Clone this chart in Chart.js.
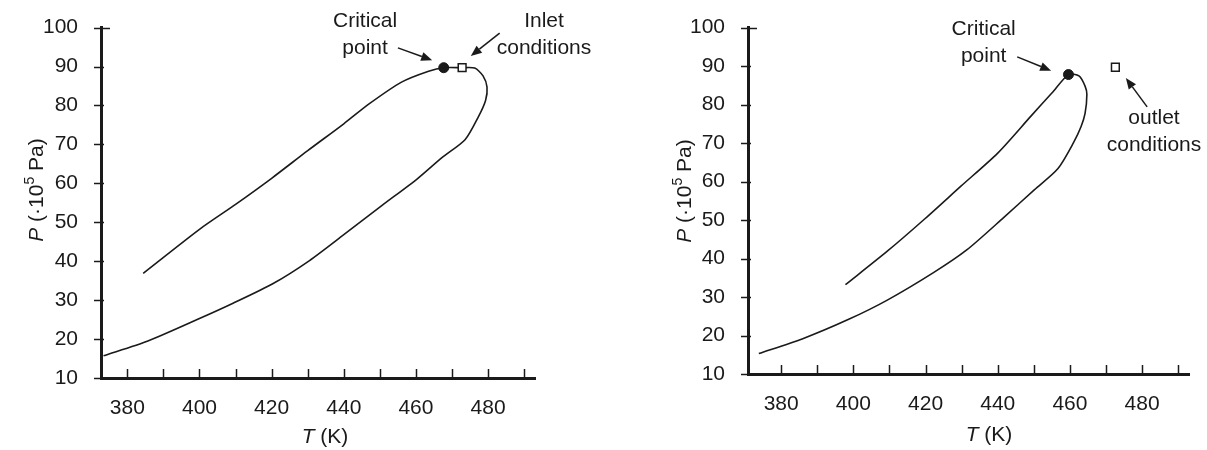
<!DOCTYPE html>
<html>
<head>
<meta charset="utf-8">
<script src="https://cdn.jsdelivr.net/npm/chart.js@4/dist/chart.umd.min.js"></script>
<style>
html, body { margin: 0; padding: 0; background: #fff; }
#left { position: absolute; left: 0; top: 0; width: 600px; height: 450px; }
#right { position: absolute; left: 600px; top: 0; width: 607px; height: 450px; }
</style>
</head>
<body>
<div id="left"><canvas id="leftChart"></canvas></div>
<div id="right"><canvas id="rightChart"></canvas></div>
<script>
// phase envelope, left panel (inlet)
var leftCurveT = [384.4, 400, 410, 420, 430, 440, 447, 456, 463.5, 467.7, 472.8, 476.3, 478.6, 479.7, 479.3, 477.3, 473.6, 467.2, 460.3, 450.7, 440, 430.4, 420.3, 409.3, 400.3, 385.7, 373.4];
var leftCurveP = [36.9, 48.2, 54.6, 61.3, 68.4, 75.3, 80.4, 86.0, 88.8, 89.7, 89.7, 89.6, 87.6, 84.7, 81.3, 77.1, 71.2, 66.6, 61.1, 54.4, 46.8, 40.1, 34.2, 29.2, 25.4, 19.5, 15.7];
var leftCritical = [467.7, 89.7];
var leftInlet = [472.8, 89.7];

// right panel (outlet)
var rightCurveT = [397.8, 409.4, 419.9, 429.8, 440, 449.2, 455, 459.6, 462.6, 464.2, 464.7, 464.2, 463.1, 461, 456.7, 450.2, 441.7, 431.5, 422.3, 409.4, 398.7, 385.8, 373.8];
var rightCurveP = [33.2, 41.9, 50.4, 58.8, 67.4, 77.0, 83.0, 87.8, 87.4, 84.8, 82.7, 77.7, 74.3, 70.1, 63.4, 57.9, 50.7, 42.3, 36.4, 29.2, 24.2, 19.1, 15.3];
var rightCritical = [459.6, 87.8];
var rightOutlet = [472.6, 89.7];

var xTickValues = [380, 390, 400, 410, 420, 430, 440, 450, 460, 470, 480, 490];
var xLabelValues = [380, 400, 420, 440, 460, 480];
var yTickValues = [10, 20, 30, 40, 50, 60, 70, 80, 90, 100];

var FONT = "'Liberation Sans', Arial, sans-serif";
var INK = '#1a1a1a';

function toPoints(ts, ps) {
    return ts.map(function (t, i) { return { x: t, y: ps[i] }; });
}

function drawRich(ctx, parts, cx, cy) {
    // parts: {t, italic, sup}; cy is the visual middle of the caps
    var total = 0;
    parts.forEach(function (p) {
        ctx.font = (p.italic ? 'italic ' : '') + (p.sup ? 14 : 21) + 'px ' + FONT;
        p.w = ctx.measureText(p.t).width;
        total += p.w;
    });
    var x = cx - total / 2;
    ctx.textBaseline = 'alphabetic';
    ctx.textAlign = 'left';
    parts.forEach(function (p) {
        ctx.font = (p.italic ? 'italic ' : '') + (p.sup ? 14 : 21) + 'px ' + FONT;
        ctx.fillText(p.t, x, p.sup ? cy + 7.5 - 9 : cy + 7.5);
        x += p.w;
    });
}

function drawArrow(ctx, x1, y1, x2, y2) {
    var ang = Math.atan2(y2 - y1, x2 - x1);
    var len = 11, half = 4.5;
    var bx = x2 - len * Math.cos(ang), by = y2 - len * Math.sin(ang);
    ctx.beginPath();
    ctx.moveTo(x1, y1);
    ctx.lineTo(bx, by);
    ctx.stroke();
    ctx.beginPath();
    ctx.moveTo(x2, y2);
    ctx.lineTo(bx + half * Math.sin(ang), by - half * Math.cos(ang));
    ctx.lineTo(bx - half * Math.sin(ang), by + half * Math.cos(ang));
    ctx.closePath();
    ctx.fill();
}

var decorPlugin = {
    id: 'decor',
    afterDraw: function (chart, args, opts) {
        var ctx = chart.ctx, a = chart.chartArea;
        var xs = chart.scales.x, ys = chart.scales.y;
        ctx.save();
        ctx.strokeStyle = INK;
        ctx.fillStyle = INK;
        ctx.lineWidth = 1.5;

        // small ticks on x axis, pointing up into the plot
        xTickValues.forEach(function (v) {
            var px = Math.round(xs.getPixelForValue(v)) + 0.5;
            ctx.beginPath();
            ctx.moveTo(px, a.bottom);
            ctx.lineTo(px, a.bottom - 9);
            ctx.stroke();
        });
        // ticks on y axis, crossing the axis
        yTickValues.forEach(function (v) {
            var py = Math.round(ys.getPixelForValue(v)) + 0.5;
            ctx.beginPath();
            ctx.moveTo(a.left - 7, py);
            ctx.lineTo(a.left + (v === 100 ? 9 : 3), py);
            ctx.stroke();
        });

        // axis titles
        drawRich(ctx, [{ t: 'T', italic: true }, { t: ' (K)' }], opts.xTitle[0], opts.xTitle[1]);
        ctx.save();
        ctx.translate(opts.yTitle[0], opts.yTitle[1]);
        ctx.rotate(-Math.PI / 2);
        drawRich(ctx, [{ t: 'P', italic: true }, { t: ' (\u00B710' }, { t: '5', sup: true }, { t: ' Pa)' }], 0, 0);
        ctx.restore();

        // annotations
        ctx.font = '21px ' + FONT;
        ctx.textAlign = 'center';
        ctx.textBaseline = 'alphabetic';
        opts.notes.forEach(function (n) {
            n.lines.forEach(function (line, i) {
                ctx.fillText(line, xs.getPixelForValue(n.at[0]), ys.getPixelForValue(n.at[1]) + 7.5 + i * 27);
            });
            drawArrow(ctx,
                xs.getPixelForValue(n.from[0]), ys.getPixelForValue(n.from[1]),
                xs.getPixelForValue(n.to[0]), ys.getPixelForValue(n.to[1]));
        });
        ctx.restore();
    }
};

function makeChart(id, curve, critical, square, xMin, yWidth, xHeight, padding, decor) {
    return new Chart(document.getElementById(id).getContext('2d'), {
        type: 'scatter',
        data: {
            datasets: [{
                data: curve,
                showLine: true,
                borderColor: INK,
                borderWidth: 1.6,
                pointRadius: 0,
                tension: 0.25,
                clip: false,
                order: 3
            }, {
                data: [{ x: critical[0], y: critical[1] }],
                pointRadius: 5,
                backgroundColor: INK,
                borderColor: INK,
                order: 2
            }, {
                data: [{ x: square[0], y: square[1] }],
                pointStyle: 'rect',
                pointRadius: 5.5,
                backgroundColor: '#fff',
                borderColor: INK,
                borderWidth: 1.5,
                order: 1
            }]
        },
        options: {
            responsive: true,
            maintainAspectRatio: false,
            animation: false,
            layout: { padding: padding },
            plugins: { legend: { display: false }, tooltip: { enabled: false }, decor: decor },
            scales: {
                x: {
                    type: 'linear',
                    min: xMin,
                    max: 493,
                    grid: { display: false },
                    border: { display: true, width: 3, color: INK },
                    ticks: { color: INK, padding: 10, maxRotation: 0, autoSkip: false, font: { family: FONT, size: 21 } },
                    afterBuildTicks: function (s) {
                        s.ticks = xLabelValues.map(function (v) { return { value: v }; });
                    },
                    afterFit: function (s) { s.height = xHeight; }
                },
                y: {
                    type: 'linear',
                    min: 10,
                    max: 100,
                    grid: { display: false },
                    border: { display: true, width: 3, color: INK },
                    ticks: { color: INK, padding: 15, font: { family: FONT, size: 21 } },
                    afterBuildTicks: function (s) {
                        s.ticks = yTickValues.map(function (v) { return { value: v }; });
                    },
                    afterFit: function (s) { s.width = yWidth; }
                }
            }
        },
        plugins: [decorPlugin]
    });
}

makeChart('leftChart', toPoints(leftCurveT, leftCurveP), leftCritical, leftInlet,
    372.7, 101, 72, { top: 23, right: 65, bottom: 0, left: 0 },
    {
        xTitle: [325, 435],
        yTitle: [35, 190],
        notes: [
            { lines: ['Critical', 'point'], at: [445.9, 102.2], from: [455, 94.8], to: [464.5, 91.6] },
            { lines: ['Inlet', 'conditions'], at: [495.5, 102.2], from: [483.2, 98.6], to: [475.2, 92.7] }
        ]
    });

makeChart('rightChart', toPoints(rightCurveT, rightCurveP), rightCritical, rightOutlet,
    370.8, 148, 76, { top: 21, right: 18, bottom: 0, left: 0 },
    {
        xTitle: [389, 433],
        yTitle: [83, 191],
        notes: [
            { lines: ['Critical', 'point'], at: [436.1, 100.0], from: [445.4, 92.4], to: [454.8, 88.8] },
            { lines: ['outlet', 'conditions'], at: [483.3, 76.9], from: [481.4, 79.4], to: [475.5, 86.9] }
        ]
    });
</script>
</body>
</html>
